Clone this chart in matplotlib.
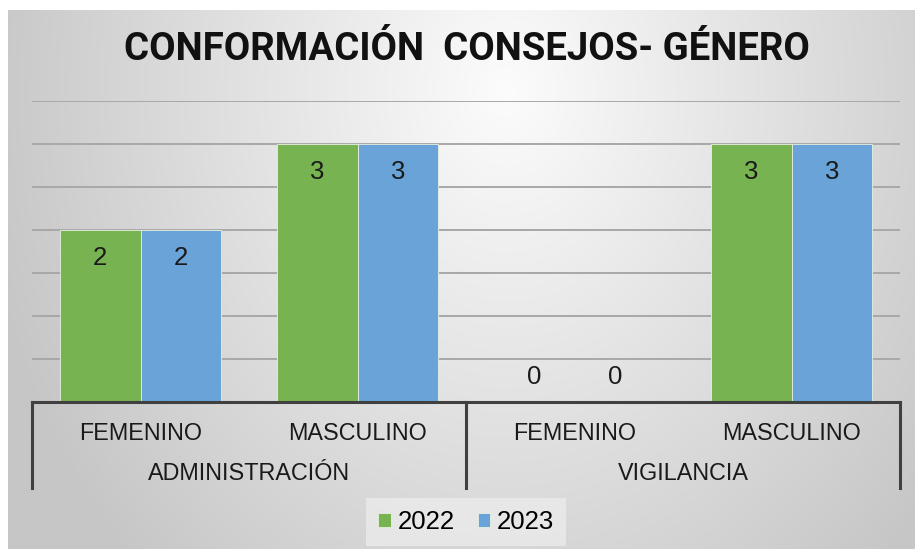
import numpy as np
import matplotlib
matplotlib.use("Agg")
import matplotlib.pyplot as plt

# ---- data ----
groups = ["ADMINISTRACIÓN", "VIGILANCIA"]
subcats = ["FEMENINO", "MASCULINO", "FEMENINO", "MASCULINO"]
series_names = ["2022", "2023"]
values_2022 = [2, 3, 0, 3]
values_2023 = [2, 3, 0, 3]
title = "CONFORMACIÓN  CONSEJOS- GÉNERO"

colors = ["#78b352", "#69a3d8"]

W, H = 915, 549
fig = plt.figure(figsize=(W / 100, H / 100), dpi=100)
fig.patch.set_facecolor("white")

# background gradient
bg = fig.add_axes([8 / W, 0, (W - 8) / W, (H - 10) / H])
bg.set_axis_off()
ny, nx = 200, 300
yy, xx = np.mgrid[0:1:ny * 1j, 0:1:nx * 1j]
dx = (xx - 0.55) / 0.55
dy = (yy - 0.85) / 1.15
d = np.sqrt(dx ** 2 + dy ** 2)
g = np.clip(252 - 50 * d, 198, 252) / 255.0
img = np.dstack([g, g, g])
bg.imshow(img, origin="lower", extent=[0, 1, 0, 1], aspect="auto",
          interpolation="bilinear")
bg.set_xlim(0, 1)
bg.set_ylim(0, 1)

# main axes
x0, x1 = 32, 900
y_top, y_base = 101, 402
ax = fig.add_axes([x0 / W, (H - y_base) / H, (x1 - x0) / W, (y_base - y_top) / H])
ax.patch.set_alpha(0)
n = len(subcats)
xpos = np.arange(n)
bw = 0.373
ax.set_xlim(-0.5, n - 0.5)
ax.set_ylim(0, 3.5)
ax.set_yticks(np.arange(0, 3.51, 0.5))
ax.yaxis.grid(True, color="#a8a8a8", linewidth=1.4)
ax.set_axisbelow(True)
for s in ax.spines.values():
    s.set_visible(False)
ax.tick_params(left=False, labelleft=False, bottom=False, labelbottom=False)

lab_font = dict(family="Liberation Sans", color="#1a1a1a")
for i, (vals, col) in enumerate(zip([values_2022, values_2023], colors)):
    offs = (i - 0.5) * bw
    ax.bar(xpos + offs, vals, width=bw, color=col,
           edgecolor="#e8f0e0", linewidth=0.6, label=series_names[i], zorder=2)
    for xp, v in zip(xpos + offs, vals):
        if v > 0:
            ax.text(xp, v - 0.33, str(v), ha="center", va="center",
                    fontsize=18.5, zorder=3, **lab_font)
        else:
            ax.text(xp, v + 0.29, str(v), ha="center", va="center",
                    fontsize=18.5, zorder=3, **lab_font)

# baseline
ax.axhline(0, color="#404040", linewidth=2.2, zorder=4, clip_on=False)

def fx(px):
    return px / W

def fy(py):
    return 1 - py / H

line_kw = dict(color="#404040", linewidth=2.2, transform=fig.transFigure)
for px in [x0, (x0 + x1) / 2, x1]:
    fig.add_artist(plt.Line2D([fx(px), fx(px)], [fy(402), fy(488)], **line_kw))

cat_w = (x1 - x0) / n
for i, lab in enumerate(subcats):
    cx = x0 + cat_w * (i + 0.5)
    fig.text(fx(cx), fy(433), lab, ha="center", va="center", fontsize=16.8, **lab_font)
for j, g_lab in enumerate(groups):
    cx = x0 + cat_w * (2 * j + 1)
    fig.text(fx(cx), fy(473), g_lab, ha="center", va="center", fontsize=16.8, **lab_font)

# title
fig.text(fx(467), fy(50), title, ha="center", va="center", fontsize=27.6,
         fontweight="bold", family=["Roboto", "Liberation Sans"],
         color="#111111")

# legend
leg = fig.legend(loc="center", bbox_to_anchor=(fx(466), fy(522)), ncol=2,
                 frameon=True, handlelength=0.5, handleheight=0.5,
                 handletextpad=0.25, columnspacing=0.9, borderpad=0.45,
                 prop=dict(family="Liberation Sans", size=18.5))
leg.get_frame().set_facecolor("#ebebeb")
leg.get_frame().set_edgecolor("none")
leg.get_frame().set_alpha(0.8)
leg.get_frame().set_boxstyle("square", pad=0.0)

fig.savefig("out.png", dpi=100)
